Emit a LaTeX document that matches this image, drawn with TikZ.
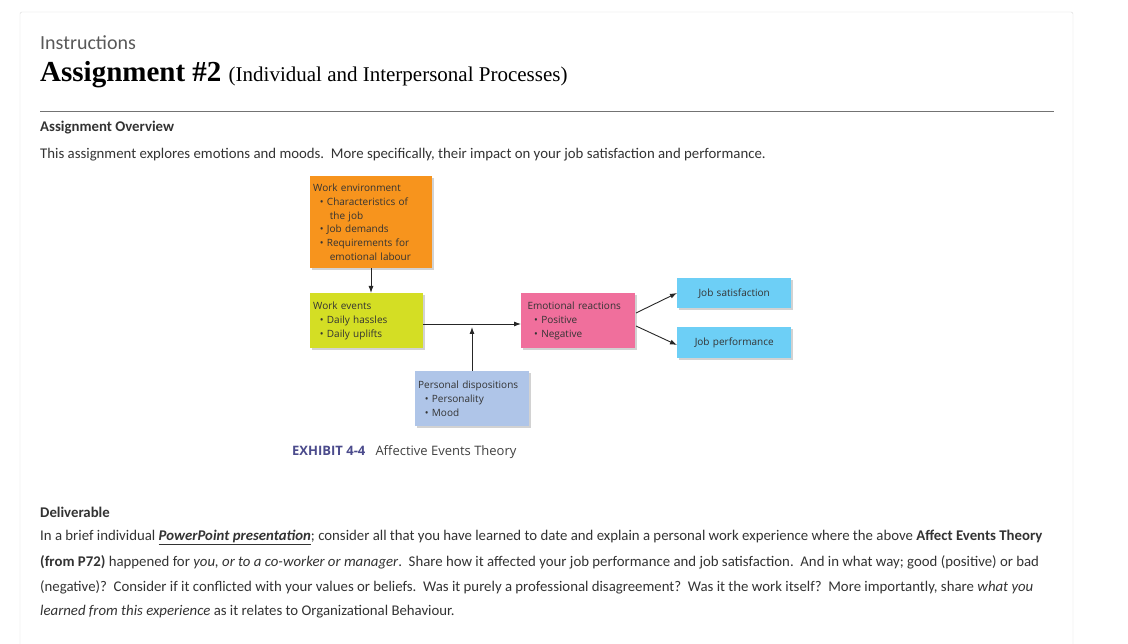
\documentclass[tikz,border=0pt]{standalone}
\usepackage{fontspec}
\setmainfont{Carlito}
\newfontfamily\headf{Liberation Serif}
\newfontfamily\diagf{Open Sans}
\usetikzlibrary{arrows.meta,shadows}
\definecolor{txt}{HTML}{333333}
\definecolor{orng}{HTML}{F7941D}
\definecolor{ylw}{HTML}{D4DE24}
\definecolor{pnk}{HTML}{F06F9C}
\definecolor{cyn}{HTML}{6DCFF6}
\definecolor{lbl}{HTML}{AFC5E8}
\definecolor{exh}{HTML}{4B4B8C}
\tikzset{
 box/.style={draw=none,anchor=north west,inner xsep=3pt,inner ysep=3pt,font=\diagf\fontsize{10}{13.8}\selectfont,align=left,text=black!80,drop shadow={shadow xshift=2pt,shadow yshift=-2pt,opacity=0.35}},
 body/.style={anchor=west,inner sep=0pt,text=txt,font=\fontsize{14.8}{17}\selectfont},
 arr/.style={-{Latex[length=7pt,width=5pt]},line width=0.9pt,black!85},
}
\begin{document}
\begin{tikzpicture}[x=1pt,y=-1pt]
\useasboundingbox (0,0) rectangle (1128,644);
\fill[white] (0,0) rectangle (1128,644);
\draw[black!15,rounded corners=2pt] (20,650) -- (20,12) -- (1073,12) -- (1073,650);
\node[anchor=west,inner sep=0pt,text=black!65,font=\fontsize{20}{22}\selectfont] (ins) at (40,43) {Instructions};
\node[anchor=base west,inner sep=0pt,text=black,font=\headf] (ttl) at (40,82) {\fontsize{29}{32}\selectfont\bfseries Assignment \#2 \fontsize{21}{24}\selectfont\mdseries (Individual and Interpersonal Processes)};
\draw[black!55,line width=0.6pt] (40,111) -- (1054,111);
\node[body,font=\bfseries\fontsize{14.8}{17}\selectfont] (ov) at (40,128) {Assignment Overview};
\node[body] (ovt) at (40,155) {This assignment explores emotions and moods.\ \ More specifically, their impact on your job satisfaction and performance.};

% diagram
\node[box,fill=orng,text width=116pt,minimum height=92pt] (we) at (310,176) {Work environment\\
\ \ \textbullet\ Characteristics of\\\ \ \ \ \ the job\\\ \ \textbullet\ Job demands\\\ \ \textbullet\ Requirements for\\\ \ \ \ \ emotional labour};
\node[box,fill=ylw,text width=107pt,minimum height=55pt] (ev) at (310,293) {Work events\\\ \ \textbullet\ Daily hassles\\\ \ \textbullet\ Daily uplifts};
\node[box,fill=pnk,text width=108pt,minimum height=55pt] (er) at (521,293) {\ Emotional reactions\\\ \ \ \textbullet\ Positive\\\ \ \ \textbullet\ Negative};
\node[box,fill=cyn,text width=108pt,minimum height=30pt,align=center] (js) at (677,278) {Job satisfaction};
\node[box,fill=cyn,text width=108pt,minimum height=31pt,align=center] (jp) at (677,327) {Job performance};
\node[box,fill=lbl,text width=108pt,minimum height=55pt] (pd) at (415,371) {Personal dispositions\\\ \ \textbullet\ Personality\\\ \ \textbullet\ Mood};
\coordinate (m) at (472,324);
\draw[arr] (we.south -| 371,0) -- (ev.north -| 371,0);
\draw[arr] (ev.east |- m) -- (er.west |- m);
\draw[arr] (pd.north -| m) -- (472,327);
\draw[arr] (636,313) -- (js.west |- 0,293);
\draw[arr] (636,326) -- (jp.west |- 0,345);
\node[anchor=west,inner sep=0pt,font=\diagf\fontsize{13}{14}\selectfont] (cap) at (292,452) {\textcolor{exh}{\bfseries EXHIBIT 4-4}\ \ \ \textcolor{black!75}{Affective Events Theory}};

% deliverable
\node[body,font=\bfseries\fontsize{14.8}{17}\selectfont] (dl) at (40,512) {Deliverable};
\node[body] (l1) at (40,537) {In a brief individual \textbf{\textit{\underline{PowerPoint presentation}}}; consider all that you have learned to date and explain a personal work experience where the above \textbf{Affect Events Theory}};
\node[body] (l2) at (40,562) {\textbf{(from P72)} happened for \textit{you, or to a co-worker or manager}.\ \ Share how it affected your job performance and job satisfaction.\ \ And in what way; good (positive) or bad};
\node[body] (l3) at (40,587) {(negative)?\ \ Consider if it conflicted with your values or beliefs.\ \ Was it purely a professional disagreement?\ \ Was it the work itself?\ \ More importantly, share \textit{what you}};
\node[body] (l4) at (40,612) {\textit{learned from this experience} as it relates to Organizational Behaviour.};
\end{tikzpicture}
\end{document}
